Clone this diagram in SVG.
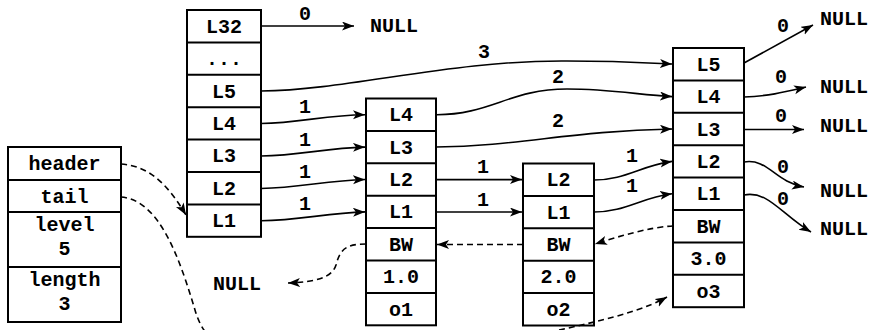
<svg xmlns="http://www.w3.org/2000/svg" width="874" height="330" viewBox="0 0 874 330">
<style>
.box{fill:#fff;stroke:#000;stroke-width:2}
.sep{stroke:#000;stroke-width:2}
text{font-family:"Liberation Mono","Courier New",monospace;font-size:20px;font-weight:bold;fill:#000}
.c{text-anchor:middle}
.ln{fill:none;stroke:#000;stroke-width:1.6;marker-end:url(#ah)}
.dash{fill:none;stroke:#000;stroke-width:1.6;stroke-dasharray:6 4;marker-end:url(#ah)}
</style>
<defs>
<marker id="ah" markerUnits="userSpaceOnUse" markerWidth="13" markerHeight="10" refX="12" refY="4.5" orient="auto">
<path d="M0,0 L12,4.5 L0,9 L3,4.5 z" fill="#000"/>
</marker>
</defs>
<rect width="874" height="330" fill="#fff"/>

<g id="list">
<rect class="box" x="8" y="147" width="113" height="175"/>
<line class="sep" x1="8" y1="180" x2="121" y2="180"/>
<line class="sep" x1="8" y1="212" x2="121" y2="212"/>
<line class="sep" x1="8" y1="267" x2="121" y2="267"/>
<text class="c" x="64.5" y="170">header</text>
<text class="c" x="64.5" y="202.5">tail</text>
<text class="c" x="64.5" y="231">level</text>
<text class="c" x="64.5" y="255">5</text>
<text class="c" x="64.5" y="286">length</text>
<text class="c" x="64.5" y="310">3</text>
</g>

<g id="headnode">
<rect class="box" x="187" y="10" width="74" height="226.8"/>
<line class="sep" x1="187" y1="42.4" x2="261" y2="42.4"/>
<line class="sep" x1="187" y1="74.8" x2="261" y2="74.8"/>
<line class="sep" x1="187" y1="107.2" x2="261" y2="107.2"/>
<line class="sep" x1="187" y1="139.6" x2="261" y2="139.6"/>
<line class="sep" x1="187" y1="172" x2="261" y2="172"/>
<line class="sep" x1="187" y1="204.4" x2="261" y2="204.4"/>
<text class="c" x="224" y="32.7">L32</text>
<text class="c" x="224" y="65.1">...</text>
<text class="c" x="224" y="97.5">L5</text>
<text class="c" x="224" y="129.9">L4</text>
<text class="c" x="224" y="162.3">L3</text>
<text class="c" x="224" y="194.7">L2</text>
<text class="c" x="224" y="227.1">L1</text>
</g>

<g id="node1">
<rect class="box" x="366" y="98.5" width="70" height="226.8"/>
<line class="sep" x1="366" y1="130.9" x2="436" y2="130.9"/>
<line class="sep" x1="366" y1="163.3" x2="436" y2="163.3"/>
<line class="sep" x1="366" y1="195.7" x2="436" y2="195.7"/>
<line class="sep" x1="366" y1="228.1" x2="436" y2="228.1"/>
<line class="sep" x1="366" y1="260.5" x2="436" y2="260.5"/>
<line class="sep" x1="366" y1="292.9" x2="436" y2="292.9"/>
<text class="c" x="401" y="121.2">L4</text>
<text class="c" x="401" y="153.6">L3</text>
<text class="c" x="401" y="186">L2</text>
<text class="c" x="401" y="218.4">L1</text>
<text class="c" x="401" y="250.8">BW</text>
<text class="c" x="401" y="283.2">1.0</text>
<text class="c" x="401" y="315.6">o1</text>
</g>

<g id="node2">
<rect class="box" x="523" y="163.5" width="71" height="162"/>
<line class="sep" x1="523" y1="195.9" x2="594" y2="195.9"/>
<line class="sep" x1="523" y1="228.3" x2="594" y2="228.3"/>
<line class="sep" x1="523" y1="260.7" x2="594" y2="260.7"/>
<line class="sep" x1="523" y1="293.1" x2="594" y2="293.1"/>
<text class="c" x="558.5" y="186.2">L2</text>
<text class="c" x="558.5" y="218.6">L1</text>
<text class="c" x="558.5" y="251">BW</text>
<text class="c" x="558.5" y="283.4">2.0</text>
<text class="c" x="558.5" y="315.8">o2</text>
</g>

<g id="node3">
<rect class="box" x="673" y="48" width="71" height="259.2"/>
<line class="sep" x1="673" y1="80.4" x2="744" y2="80.4"/>
<line class="sep" x1="673" y1="112.8" x2="744" y2="112.8"/>
<line class="sep" x1="673" y1="145.2" x2="744" y2="145.2"/>
<line class="sep" x1="673" y1="177.6" x2="744" y2="177.6"/>
<line class="sep" x1="673" y1="210" x2="744" y2="210"/>
<line class="sep" x1="673" y1="242.4" x2="744" y2="242.4"/>
<line class="sep" x1="673" y1="274.8" x2="744" y2="274.8"/>
<text class="c" x="708.5" y="70.7">L5</text>
<text class="c" x="708.5" y="103.1">L4</text>
<text class="c" x="708.5" y="135.5">L3</text>
<text class="c" x="708.5" y="167.9">L2</text>
<text class="c" x="708.5" y="200.3">L1</text>
<text class="c" x="708.5" y="232.7">BW</text>
<text class="c" x="708.5" y="265.1">3.0</text>
<text class="c" x="708.5" y="297.5">o3</text>
</g>

<g id="nulls">
<text x="370" y="32">NULL</text>
<text x="820" y="25">NULL</text>
<text x="820" y="93">NULL</text>
<text x="820" y="132">NULL</text>
<text x="820" y="197">NULL</text>
<text x="820" y="235">NULL</text>
<text x="213" y="290">NULL</text>
</g>

<g id="connectors">
<path class="ln" d="M261,26 L354,26"/>
<path class="ln" d="M261,91 C350,90 450,60 567,61 C620,61 650,63 672,64"/>
<path class="ln" d="M261,123.5 C300,123 325,115 365,114.7"/>
<path class="ln" d="M261,156 C300,155.5 325,148 365,147.1"/>
<path class="ln" d="M261,188.5 C300,188 325,180.5 365,179.5"/>
<path class="ln" d="M261,220.7 C300,220.5 325,213 365,211.9"/>
<path class="ln" d="M436,114.7 C490,115 510,89 567,89 C610,89 640,95 672,96.6"/>
<path class="ln" d="M436,147 C520,146 570,131 672,129"/>
<path class="ln" d="M436,179.6 L522,179.6"/>
<path class="ln" d="M436,212 L522,212"/>
<path class="ln" d="M594,180 C625,180 640,166 672,161.4"/>
<path class="ln" d="M594,212 C625,212 640,198 672,193.8"/>
<path class="ln" d="M744,63 L813,25"/>
<path class="ln" d="M744,97 C770,96 785,92 806,87"/>
<path class="ln" d="M744,129.5 L804,129.5"/>
<path class="ln" d="M744,162 C768,158 775,182 804,187"/>
<path class="ln" d="M744,195 C768,190 782,215 811,232"/>
<path class="dash" d="M121,164 C150,166 168,185 186,215"/>
<path class="dash" d="M121,197 C160,200 180,260 195,310 C205,345 230,360 300,360 L520,340 C560,328 630,318 667,297"/>
<path class="dash" d="M523,244.5 L437,244.5"/>
<path class="dash" d="M673,226 C650,227 620,236 595,244"/>
<path class="dash" d="M366,244 C345,244 340,250 336,265 C332,278 315,282 288,283"/>
</g>

<g id="labels">
<text class="c" x="305" y="20">0</text>
<text class="c" x="484" y="58">3</text>
<text class="c" x="558" y="83">2</text>
<text class="c" x="558" y="127">2</text>
<text class="c" x="305" y="113">1</text>
<text class="c" x="305" y="146">1</text>
<text class="c" x="305" y="178">1</text>
<text class="c" x="305" y="210">1</text>
<text class="c" x="483" y="173">1</text>
<text class="c" x="483" y="206">1</text>
<text class="c" x="632" y="162">1</text>
<text class="c" x="632" y="192">1</text>
<text class="c" x="783" y="32">0</text>
<text class="c" x="781" y="83">0</text>
<text class="c" x="781" y="122">0</text>
<text class="c" x="783" y="173">0</text>
<text class="c" x="783" y="205">0</text>
</g>
</svg>
